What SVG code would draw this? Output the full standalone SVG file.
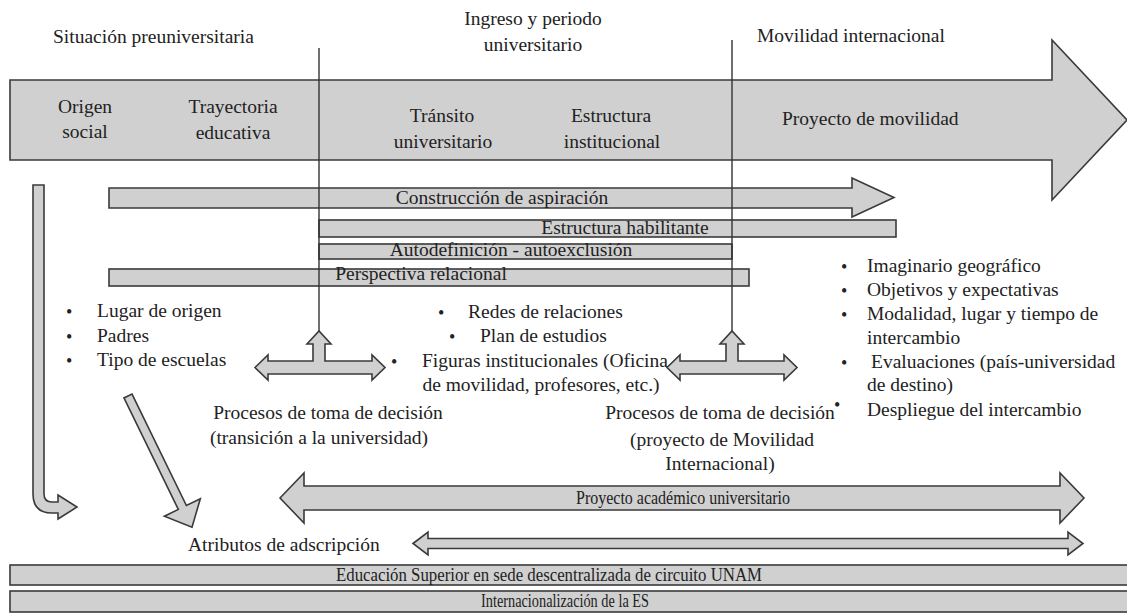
<svg xmlns="http://www.w3.org/2000/svg" width="1127" height="614" viewBox="0 0 1127 614">
<style>
.sh{fill:#d0d0d0;stroke:#3a3a3a;stroke-width:1.6;stroke-linejoin:miter}
.t{font-family:"Liberation Serif","Times New Roman",serif;font-size:19.5px;fill:#222}
.s{font-family:"Liberation Serif","Times New Roman",serif;font-size:18px;fill:#222}
.m{text-anchor:middle}
.ln{stroke:#333;stroke-width:1.4;fill:none}
.b{font-family:"Liberation Serif",serif;font-size:18px;fill:#222}
</style>
<rect width="1127" height="614" fill="#fff"/>

<g id="main-arrow">
<polygon class="sh" points="10,80 1052,80 1052,40 1127,120 1052,200 1052,160 10,160"/>
</g>

<g id="construccion">
<polygon class="sh" points="109,188 852,188 852,178 894,197.5 852,217 852,208 109,208"/>
<text class="t m" x="502" y="204">Construcción de aspiración</text>
</g>
<g id="estructura-habilitante">
<rect class="sh" x="319" y="220" width="577" height="17"/>
<text class="t m" x="625" y="234">Estructura habilitante</text>
</g>
<g id="autodefinicion">
<rect class="sh" x="319" y="244" width="413" height="15"/>
<text class="t m" x="511" y="256">Autodefinición - autoexclusión</text>
</g>
<g id="perspectiva">
<rect class="sh" x="109" y="269" width="640" height="17"/>
<text class="t m" x="421" y="280">Perspectiva relacional</text>
</g>

<g id="connectors">
<line class="ln" x1="319" y1="48" x2="319" y2="333"/>
<line class="ln" x1="732" y1="40" x2="732" y2="333"/>
<path class="sh" d="M33,185 H44 V494 Q44,502 52,502 H58 V495 L77,507 L58,519 V513 H52 Q33,513 33,494 Z"/>
<polygon class="sh" transform="translate(128,396) rotate(64)" points="0,-4.5 124,-4.5 124,-20 146,0 124,20 124,4.5 0,4.5"/>
<polygon class="sh" points="255,367.5 268,355 268,361 313,361 313,344 307,344 319,331 331,344 325,344 325,361 372,361 372,355 385,367.5 372,380 372,374 268,374 268,380"/>
<polygon class="sh" points="667,367.5 680,355 680,361 726,361 726,344 720,344 732,331 744,344 738,344 738,361 784,361 784,355 797,367.5 784,380 784,374 680,374 680,380"/>
</g>

<g id="proyecto-academico">
<polygon class="sh" points="280,498 304,473 304,486 1060,486 1060,473 1084,498 1060,523 1060,510 304,510 304,523"/>
<text class="s" x="576" y="504" textLength="214" lengthAdjust="spacingAndGlyphs">Proyecto académico universitario</text>
</g>
<g id="atributos-arrow">
<polygon class="sh" points="413,543.5 428,532 428,538.5 1068,538.5 1068,532 1083,543.5 1068,555 1068,548.5 428,548.5 428,555"/>
</g>
<g id="atributos">
<text class="t" x="188" y="551">Atributos de adscripción</text>
</g>

<g id="educacion-superior">
<rect class="sh" x="10" y="565" width="1125" height="20"/>
<text class="s" x="336" y="581" textLength="426" lengthAdjust="spacingAndGlyphs">Educación Superior en sede descentralizada de circuito UNAM</text>
</g>
<g id="internacionalizacion">
<rect class="sh" x="10" y="591" width="1125" height="21"/>
<text class="s" x="481" y="607" textLength="168" lengthAdjust="spacingAndGlyphs">Internacionalización de la ES</text>
</g>

<g id="headers">
<text class="t" x="53" y="43">Situación preuniversitaria</text>
<text class="t m" x="533" y="25">Ingreso y periodo</text>
<text class="t m" x="533" y="51">universitario</text>
<text class="t" x="757" y="42">Movilidad internacional</text>
</g>

<g id="fases">
<text class="t m" x="85" y="113">Origen</text>
<text class="t m" x="85" y="138">social</text>
<text class="t m" x="233" y="113">Trayectoria</text>
<text class="t m" x="233" y="139">educativa</text>
<text class="t m" x="442" y="122">Tránsito</text>
<text class="t m" x="443" y="148">universitario</text>
<text class="t m" x="611" y="122">Estructura</text>
<text class="t m" x="612" y="148">institucional</text>
<text class="t" x="782" y="125">Proyecto de movilidad</text>
</g>

<g id="bullets-origen">
<text class="b" x="66" y="318">•</text>
<text class="t" x="97" y="317">Lugar de origen</text>
<text class="b" x="66" y="343">•</text>
<text class="t" x="97" y="342">Padres</text>
<text class="b" x="66" y="367">•</text>
<text class="t" x="97" y="366">Tipo de escuelas</text>
</g>

<g id="bullets-universidad">
<text class="b" x="438" y="319">•</text>
<text class="t" x="468" y="318">Redes de relaciones</text>
<text class="b" x="449" y="343">•</text>
<text class="t" x="480" y="342">Plan de estudios</text>
<text class="b" x="391" y="368">•</text>
<text class="t" x="422" y="367">Figuras institucionales (Oficina</text>
<text class="t m" x="541" y="391">de movilidad, profesores, etc.)</text>
</g>

<g id="decision-universidad">
<text class="t m" x="328" y="419">Procesos de toma de decisión</text>
<text class="t m" x="319" y="444">(transición a la universidad)</text>
</g>

<g id="decision-movilidad">
<text class="t m" x="720" y="419">Procesos de toma de decisión</text>
<text class="t m" x="722" y="446">(proyecto de Movilidad</text>
<text class="t m" x="720" y="470">Internacional)</text>
</g>

<g id="bullets-movilidad">
<text class="b" x="841" y="273">•</text>
<text class="t" x="867" y="272">Imaginario geográfico</text>
<text class="b" x="841" y="297">•</text>
<text class="t" x="867" y="296">Objetivos y expectativas</text>
<text class="b" x="841" y="321">•</text>
<text class="t" x="867" y="320">Modalidad, lugar y tiempo de</text>
<text class="t" x="867" y="344">intercambio</text>
<text class="b" x="841" y="369">•</text>
<text class="t" x="871" y="368">Evaluaciones (país-universidad</text>
<text class="t" x="867" y="391">de destino)</text>
<text class="b" x="834" y="411">•</text>
<text class="t" x="867" y="416">Despliegue del intercambio</text>
</g>
</svg>
